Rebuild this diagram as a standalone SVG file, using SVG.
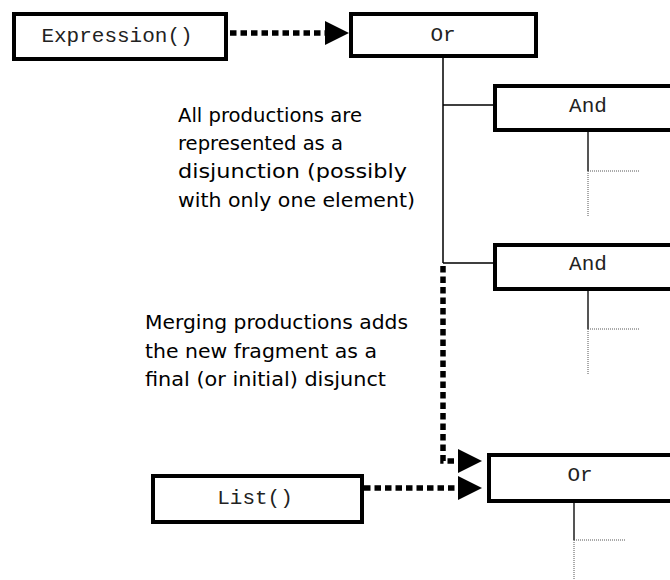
<svg xmlns="http://www.w3.org/2000/svg" width="670" height="580" viewBox="0 0 670 580">
<style>
.box{fill:#fff;stroke:#000;stroke-width:4}
.lbl{font-family:"Liberation Mono","Courier New",monospace;font-size:21px;fill:#222;text-anchor:middle}
.note{font-family:"DejaVu Sans","Liberation Sans",sans-serif;font-size:19px;fill:#000}
.thin{fill:none;stroke:#000;stroke-width:1.5}
.stem{fill:none;stroke:#555;stroke-width:2}
.dot{fill:none;stroke:#555;stroke-width:1;stroke-dasharray:1 1}
.thick{fill:none;stroke:#000;stroke-width:5.5;stroke-dasharray:6.5 4}
</style>
<defs>
<marker id="ah" viewBox="0 0 24 24" refX="24" refY="12" markerWidth="24" markerHeight="24" markerUnits="userSpaceOnUse" orient="auto">
<path d="M0 0 L24 12 L0 24 Z" fill="#000"/>
</marker>
</defs>
<g id="connectors">
<path class="thick" d="M230 33 H326" />
<path d="M326 33 H349" stroke="none" marker-end="url(#ah)"/>
<path class="thin" d="M443 58 V263 M443 105 H494 M443 263 H494"/>
<path class="thick" d="M443 266 V461 H458"/>
<path d="M458 461 H482" stroke="none" marker-end="url(#ah)"/>
<path class="thick" d="M364 488 H458"/>
<path d="M458 488 H482" stroke="none" marker-end="url(#ah)"/>
<path class="stem" d="M588 132 V171"/>
<path class="dot" d="M588 171 H639 M588 171 V217"/>
<path class="stem" d="M588 291 V329"/>
<path class="dot" d="M588 329 H639 M588 329 V375"/>
<path class="stem" d="M574 503 V540"/>
<path class="dot" d="M574 540 H626 M574 540 V580"/>
</g>
<g id="expression">
<rect class="box" x="14" y="14" width="212" height="45"/>
<text class="lbl" x="117" y="42">Expression()</text>
</g>
<g id="or-top">
<rect class="box" x="351" y="14" width="185" height="42"/>
<text class="lbl" x="443" y="41">Or</text>
</g>
<g id="and-1">
<rect class="box" x="495" y="86" width="186" height="44"/>
<text class="lbl" x="588" y="112">And</text>
</g>
<g id="and-2">
<rect class="box" x="495" y="245" width="186" height="44"/>
<text class="lbl" x="588" y="270">And</text>
</g>
<g id="or-bottom">
<rect class="box" x="489" y="455" width="184" height="46"/>
<text class="lbl" x="580" y="481">Or</text>
</g>
<g id="list">
<rect class="box" x="153" y="476" width="209" height="46"/>
<text class="lbl" x="255" y="504">List()</text>
</g>
<g id="note-1">
<text class="note" x="178" y="122" textLength="184" lengthAdjust="spacingAndGlyphs">All productions are</text>
<text class="note" x="178" y="150" textLength="165" lengthAdjust="spacingAndGlyphs">represented as a</text>
<text class="note" x="178" y="178" textLength="229" lengthAdjust="spacingAndGlyphs">disjunction (possibly</text>
<text class="note" x="178" y="207" textLength="237" lengthAdjust="spacingAndGlyphs">with only one element)</text>
</g>
<g id="note-2">
<text class="note" x="145" y="329" textLength="263" lengthAdjust="spacingAndGlyphs">Merging productions adds</text>
<text class="note" x="145" y="358" textLength="232" lengthAdjust="spacingAndGlyphs">the new fragment as a</text>
<text class="note" x="145" y="386" textLength="241" lengthAdjust="spacingAndGlyphs">final (or initial) disjunct</text>
</g>
</svg>
